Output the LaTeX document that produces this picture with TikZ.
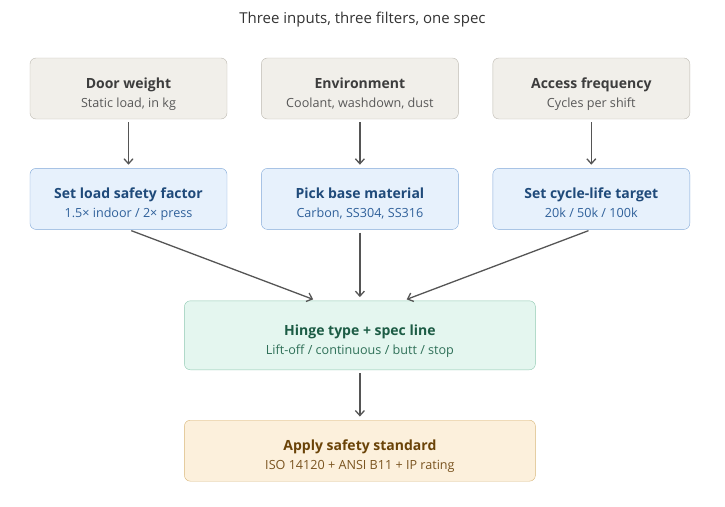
\documentclass[tikz,border=0pt]{standalone}
\usepackage{fontspec}
\setmainfont{Open Sans}
\usepackage{tikz}
\usetikzlibrary{arrows.meta,positioning}
\definecolor{inFill}{HTML}{F1EFEA}
\definecolor{inDraw}{HTML}{BDB9B1}
\definecolor{inText}{HTML}{3D3D3D}
\definecolor{inSub}{HTML}{585858}
\definecolor{fiFill}{HTML}{E7F1FC}
\definecolor{fiDraw}{HTML}{82A9D8}
\definecolor{fiText}{HTML}{1F4A7A}
\definecolor{fiSub}{HTML}{2F609A}
\definecolor{spFill}{HTML}{E4F6EF}
\definecolor{spDraw}{HTML}{8FC9B2}
\definecolor{spText}{HTML}{1D5C45}
\definecolor{spSub}{HTML}{2F7058}
\definecolor{stFill}{HTML}{FCF0DC}
\definecolor{stDraw}{HTML}{D8B679}
\definecolor{stText}{HTML}{6A4308}
\definecolor{stSub}{HTML}{7A5420}
\definecolor{pilColor}{HTML}{555555}
\newcommand{\boxlines}[2]{{\fontsize{14}{17}\bfseries\rule[-4pt]{0pt}{27pt}#1}\\[4pt]{\fontsize{12.6}{15}\selectfont\rule[-4pt]{0pt}{14pt}#2}}
\tikzset{
    %Define standard arrow tip
    >={Straight Barb[length=5pt,width=9pt]},
    %Define style for boxes
    inbox/.style={
           rectangle,
           rounded corners=6pt,
           draw=inDraw, fill=inFill,
           text=inText,
           minimum width=197pt,
           minimum height=61pt,
           inner sep=2pt,
           align=center},
    filterbox/.style={
           inbox,
           draw=fiDraw, fill=fiFill,
           text=fiText},
    specbox/.style={
           inbox,
           draw=spDraw, fill=spFill,
           text=spText,
           minimum width=351pt,
           minimum height=69pt},
    stdbox/.style={
           inbox,
           draw=stDraw, fill=stFill,
           text=stText,
           minimum width=351pt,
           minimum height=61pt},
    % Define arrow style
    pil/.style={
           ->,
           draw=pilColor,
           line width=1.3pt,
           shorten <=3pt,
           shorten >=3.5pt}
}

\begin{document}
\begin{tikzpicture}[node distance=49pt and 34pt]
\useasboundingbox (0,0) rectangle (725pt,-506pt);
\node[text=black!80, font=\fontsize{15}{18}\selectfont] (title) at (362.5pt,-20pt) {Three inputs, three filters, one spec};
% inputs
\node[inbox] (in1) at (128.5pt,-88.5pt) {\boxlines{Door weight}{\color{inSub}Static load, in kg}};
\node[inbox, right=of in1] (in2) {\boxlines{Environment}{\color{inSub}Coolant, washdown, dust}};
\node[inbox, right=of in2] (in3) {\boxlines{Access frequency}{\color{inSub}Cycles per shift}};
% filters
\node[filterbox, below=of in1] (fi1) {\boxlines{Set load safety factor}{\color{fiSub}1.5× indoor / 2× press}};
\node[filterbox, below=of in2] (fi2) {\boxlines{Pick base material}{\color{fiSub}Carbon, SS304, SS316}};
\node[filterbox, below=of in3] (fi3) {\boxlines{Set cycle-life target}{\color{fiSub}20k / 50k / 100k}};
% spec and standard
\node[specbox, below=71pt of fi2] (spec) {\boxlines{Hinge type + spec line}{\color{spSub}Lift-off / continuous / butt / stop}};
\node[stdbox, below=50pt of spec] (std) {\boxlines{Apply safety standard}{\color{stSub}ISO 14120 + ANSI B11 + IP rating}};
\coordinate (specl) at ([xshift=-43.5pt]spec.north);
\coordinate (specr) at ([xshift=43.5pt]spec.north);
\path
	(in1) edge[pil] (fi1)
	(in2) edge[pil] (fi2)
	(in3) edge[pil] (fi3)
	(fi1.south) edge[pil] (specl)
	(fi2) edge[pil] (spec)
	(fi3.south) edge[pil] (specr)
	(spec) edge[pil] (std);
\end{tikzpicture}
\end{document}
